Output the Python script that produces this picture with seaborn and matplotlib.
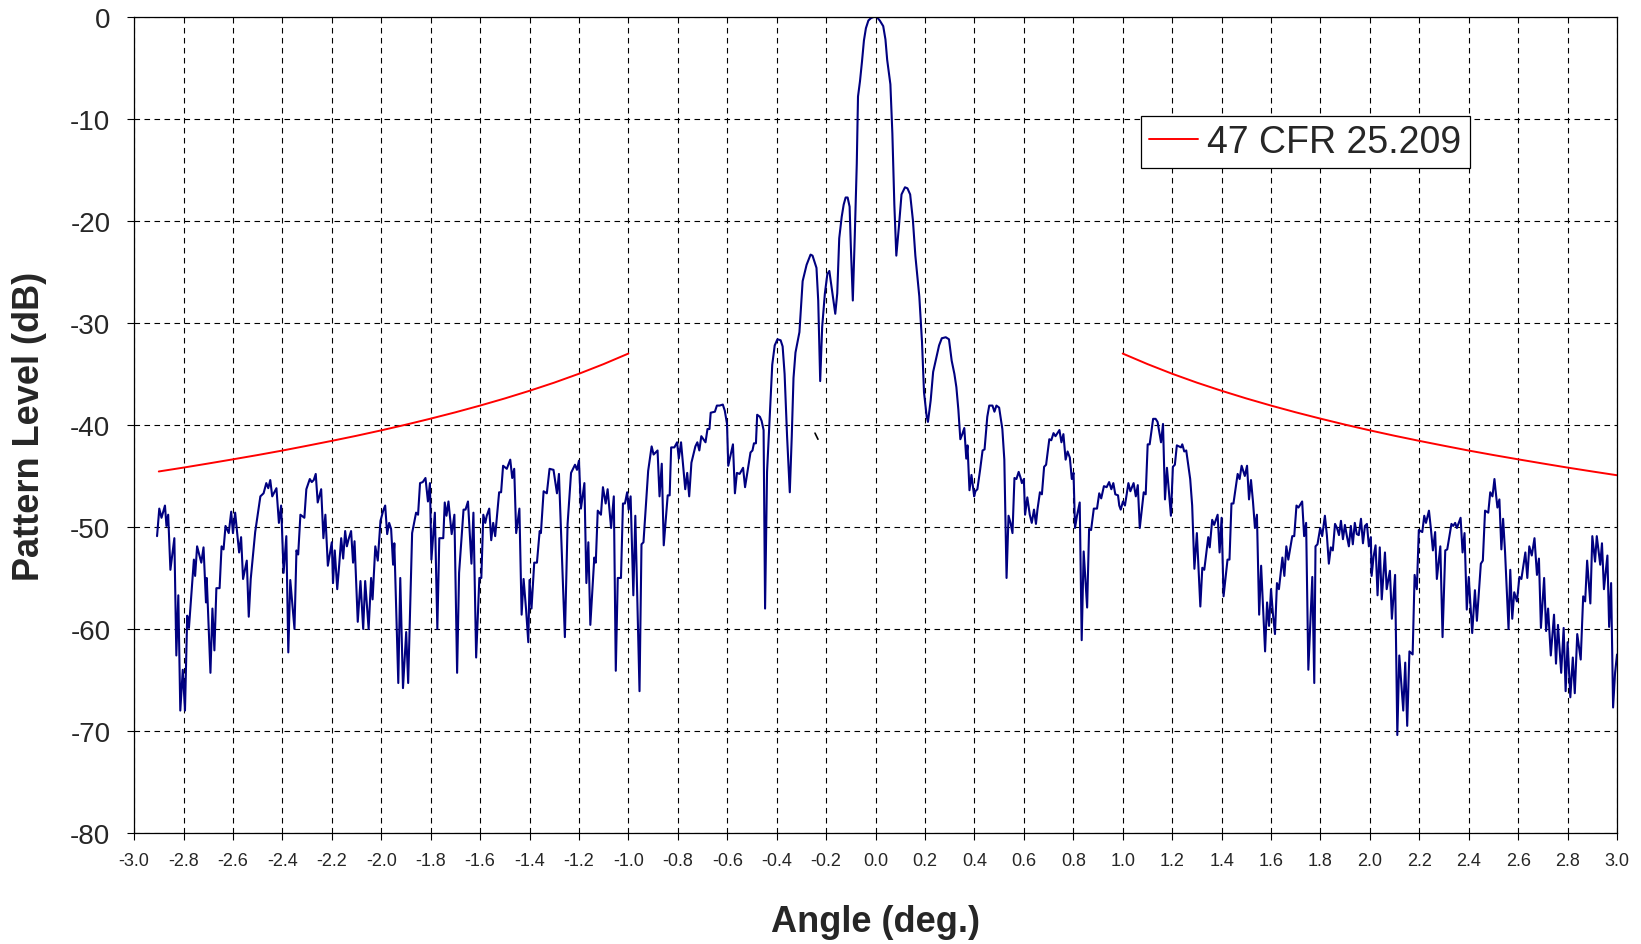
import matplotlib
matplotlib.use("Agg")
import matplotlib.pyplot as plt
import seaborn as sns
import numpy as np

pattern_angle = [
    -2.907, -2.898, -2.889, -2.875, -2.869, -2.862, -2.853, -2.837, -2.829, -2.821, -2.813, -2.803, -2.794, -2.785,
    -2.778, -2.758, -2.753, -2.745, -2.728, -2.719, -2.709, -2.706, -2.691, -2.683, -2.675, -2.667, -2.654, -2.646,
    -2.638, -2.630, -2.617, -2.607, -2.600, -2.591, -2.575, -2.567, -2.559, -2.544, -2.536, -2.528, -2.510,
    -2.489, -2.476, -2.465, -2.457, -2.449, -2.441, -2.424, -2.414, -2.405, -2.395, -2.384, -2.376, -2.368, -2.351,
    -2.343, -2.336, -2.327, -2.311, -2.303, -2.289, -2.281, -2.273, -2.265, -2.257, -2.243, -2.234, -2.226, -2.216,
    -2.200, -2.195, -2.188, -2.178, -2.170, -2.162, -2.154, -2.146, -2.139, -2.132, -2.122, -2.114, -2.108, -2.095,
    -2.084, -2.073, -2.065, -2.051, -2.041, -2.035, -2.024, -2.014, -2.003,
    -1.992, -1.984, -1.976, -1.968, -1.960, -1.952, -1.947, -1.931, -1.923, -1.912, -1.899, -1.891, -1.875, -1.859,
    -1.851, -1.843, -1.832, -1.821, -1.811, -1.803, -1.797, -1.783, -1.773, -1.765, -1.749, -1.743, -1.736, -1.728,
    -1.715, -1.704, -1.693, -1.685, -1.667, -1.659, -1.649, -1.635, -1.627, -1.616, -1.603, -1.595, -1.587, -1.579,
    -1.573, -1.563, -1.555, -1.547, -1.539, -1.523, -1.515, -1.507,
    -1.492, -1.478, -1.470, -1.462, -1.454, -1.441, -1.432, -1.424, -1.414, -1.405, -1.400, -1.392, -1.381, -1.370,
    -1.359, -1.354, -1.343, -1.330, -1.319, -1.303, -1.289, -1.281, -1.257, -1.246, -1.232, -1.216, -1.208, -1.200,
    -1.192, -1.178, -1.170, -1.162, -1.154, -1.138, -1.132, -1.124, -1.111, -1.103, -1.092, -1.084, -1.070, -1.059,
    -1.051, -1.043, -1.030, -1.022, -1.014, -1.005,
    -0.999, -0.991, -0.980, -0.972, -0.955, -0.947, -0.939, -0.920, -0.906, -0.898, -0.882, -0.874, -0.865, -0.857,
    -0.841, -0.833, -0.827, -0.814, -0.803, -0.796, -0.787, -0.770, -0.762, -0.754, -0.745, -0.729, -0.721, -0.713,
    -0.705, -0.688, -0.680, -0.672, -0.667, -0.650, -0.642, -0.631, -0.618, -0.610, -0.601, -0.596, -0.577, -0.569,
    -0.561, -0.550, -0.536, -0.528, -0.506,
    -0.498, -0.492, -0.484, -0.479, -0.468, -0.461, -0.453, -0.447, -0.439, -0.432, -0.418, -0.408, -0.397, -0.384,
    -0.376, -0.368, -0.358, -0.347, -0.339, -0.332, -0.324, -0.308, -0.295, -0.279, -0.263, -0.255, -0.247, -0.239,
    -0.232, -0.224, -0.216, -0.205, -0.195, -0.187, -0.179, -0.171, -0.163, -0.155, -0.147, -0.137, -0.129, -0.121,
    -0.113, -0.105, -0.100, -0.092, -0.084, -0.076, -0.071, -0.063, -0.055, -0.047, -0.039, -0.029, -0.018, -0.007,
    0.005, 0.017, 0.031, 0.040, 0.047, 0.060, 0.068, 0.076, 0.084, 0.095, 0.105, 0.119, 0.129, 0.140,
    0.151, 0.161, 0.177, 0.188, 0.196, 0.207, 0.212, 0.223, 0.233, 0.247, 0.257, 0.268, 0.284, 0.297,
    0.308, 0.319, 0.327, 0.335, 0.343, 0.351, 0.359, 0.367, 0.372, 0.380, 0.388, 0.399, 0.404, 0.412,
    0.423, 0.433, 0.441, 0.452, 0.460, 0.473, 0.481, 0.489,
    0.500, 0.505, 0.513, 0.521, 0.530, 0.538, 0.546, 0.554, 0.562, 0.570, 0.579, 0.587, 0.592, 0.600,
    0.605, 0.614, 0.624, 0.632, 0.641, 0.649, 0.655, 0.665, 0.673, 0.682, 0.690, 0.703, 0.711, 0.720,
    0.728, 0.744, 0.752, 0.760, 0.769, 0.777, 0.786, 0.794, 0.801, 0.807, 0.815, 0.826, 0.834, 0.842,
    0.856, 0.864, 0.872, 0.883, 0.896, 0.905, 0.913, 0.924, 0.935, 0.945, 0.954, 0.962, 0.970, 0.981,
    0.986, 0.992,
    1.001, 1.009, 1.023, 1.031, 1.044, 1.053, 1.061, 1.069, 1.085, 1.093, 1.101, 1.109, 1.123, 1.133,
    1.141, 1.155, 1.163, 1.171, 1.179, 1.195, 1.203, 1.211, 1.219, 1.236, 1.241, 1.249, 1.257, 1.273,
    1.281, 1.290, 1.300, 1.314, 1.322, 1.330, 1.346, 1.352, 1.362, 1.370, 1.384, 1.392, 1.400, 1.408,
    1.424, 1.432, 1.440, 1.448, 1.456, 1.465, 1.473, 1.481, 1.494,
    1.503, 1.511, 1.519, 1.527, 1.535, 1.543, 1.552, 1.560, 1.576, 1.584, 1.592, 1.600, 1.608, 1.616,
    1.624, 1.632, 1.646, 1.654, 1.662, 1.670, 1.686, 1.694, 1.703, 1.711, 1.726, 1.734, 1.742, 1.751,
    1.767, 1.775, 1.780, 1.788, 1.799, 1.807, 1.818, 1.826, 1.834, 1.842, 1.850, 1.859, 1.867, 1.875,
    1.883, 1.891, 1.899, 1.907, 1.915, 1.923, 1.931, 1.939, 1.947, 1.955, 1.964, 1.972, 1.980, 1.988,
    1.996,
    2.004, 2.007, 2.015, 2.023, 2.031, 2.040, 2.048, 2.061, 2.068, 2.081, 2.089, 2.102, 2.111, 2.119,
    2.135, 2.143, 2.151, 2.160, 2.173, 2.181, 2.190, 2.198, 2.212, 2.220, 2.227, 2.239, 2.247, 2.255,
    2.264, 2.271, 2.285, 2.294, 2.305, 2.313, 2.330, 2.337, 2.345, 2.352, 2.367, 2.375, 2.383, 2.392,
    2.400, 2.414, 2.425, 2.433, 2.449, 2.457, 2.466, 2.479, 2.487, 2.496, 2.504,
    2.508, 2.516, 2.524, 2.532, 2.539, 2.547, 2.561, 2.568, 2.576, 2.584, 2.595, 2.605, 2.613, 2.629,
    2.637, 2.645, 2.655, 2.666, 2.676, 2.684, 2.692, 2.705, 2.713, 2.721, 2.732, 2.745, 2.753, 2.761,
    2.774, 2.784, 2.792, 2.800, 2.811, 2.821, 2.829, 2.839, 2.853, 2.863, 2.871, 2.879, 2.892, 2.900,
    2.911, 2.918, 2.932, 2.939, 2.947, 2.961, 2.968, 2.976, 2.984, 2.992, 3.000,
]
pattern_level = [
    -50.9, -48.2, -49.1, -47.9, -49.9, -48.8, -54.2, -51.1, -62.6, -56.7, -68.0, -64.0, -68.0, -58.7,
    -59.9, -53.2, -54.8, -51.9, -53.5, -52.0, -57.4, -55.0, -64.3, -58.0, -62.1, -56.0, -56.0, -51.9,
    -52.2, -49.9, -50.6, -48.5, -50.6, -48.6, -52.5, -51.0, -55.1, -53.3, -58.8, -55.1, -50.5,
    -47.0, -46.7, -45.7, -46.2, -45.4, -47.0, -46.2, -49.6, -47.9, -54.5, -50.9, -62.3, -55.2, -60.0,
    -52.3, -52.7, -48.8, -49.1, -46.3, -45.3, -45.6, -45.4, -44.8, -47.6, -46.3, -51.1, -48.8, -53.8,
    -51.5, -55.5, -52.3, -56.1, -53.7, -51.1, -53.1, -50.4, -51.9, -51.2, -50.4, -53.5, -51.4, -59.3,
    -55.3, -60.0, -55.3, -60.0, -55.0, -57.1, -51.9, -53.3, -49.4,
    -48.4, -47.9, -50.7, -49.6, -50.2, -53.7, -51.6, -65.3, -55.0, -65.8, -60.3, -65.3, -50.6, -48.6,
    -48.8, -45.7, -45.6, -45.2, -47.5, -45.7, -53.2, -48.6, -60.0, -51.1, -51.1, -47.6, -48.9, -47.5,
    -50.7, -48.8, -64.3, -54.5, -48.3, -48.3, -47.5, -53.6, -48.6, -62.8, -55.0, -55.0, -48.8, -49.6,
    -48.9, -48.2, -51.3, -49.6, -50.9, -46.6, -46.6, -44.0,
    -44.3, -43.4, -45.2, -44.3, -50.6, -48.2, -58.6, -55.1, -58.1, -61.3, -55.2, -58.0, -53.5, -53.5,
    -50.4, -50.6, -46.5, -46.7, -44.3, -44.4, -46.7, -44.8, -60.8, -49.7, -44.7, -43.9, -44.4, -43.5,
    -48.2, -45.7, -55.5, -51.5, -59.6, -53.0, -53.5, -48.4, -48.8, -46.1, -47.7, -46.3, -50.1, -47.0,
    -64.1, -55.0, -55.0, -47.7, -47.7, -46.6,
    -48.3, -47.0, -56.7, -48.9, -66.1, -51.7, -51.5, -44.5, -42.1, -42.9, -42.5, -47.0, -43.8, -51.8,
    -46.9, -46.9, -42.2, -42.2, -41.7, -43.3, -41.7, -46.3, -44.7, -47.0, -43.7, -42.1, -41.7, -42.5,
    -41.1, -41.7, -40.4, -40.4, -38.8, -38.7, -38.1, -38.1, -38.0, -38.6, -39.9, -44.0, -41.9, -46.7,
    -44.7, -44.8, -44.2, -46.1, -42.7,
    -42.5, -41.8, -41.8, -39.0, -39.2, -39.6, -40.5, -58.0, -44.6, -41.1, -34.1, -32.2, -31.6, -31.7,
    -32.3, -35.0, -41.1, -46.6, -41.1, -35.4, -32.9, -30.9, -25.9, -24.3, -23.3, -23.4, -24.0, -24.6,
    -27.8, -35.7, -30.4, -27.1, -25.2, -24.9, -26.3, -27.7, -29.1, -27.1, -21.7, -19.6, -18.4, -17.7,
    -17.7, -18.6, -22.5, -27.8, -21.4, -14.4, -7.8, -6.3, -4.4, -2.3, -1.1, -0.35, -0.1, 0.0,
    0.0, -0.35, -0.9, -2.2, -4.2, -6.6, -11.4, -18.4, -23.4, -20.4, -17.4, -16.7, -16.8, -17.4,
    -19.9, -23.4, -27.4, -31.9, -36.8, -39.2, -39.7, -37.6, -34.8, -33.3, -32.2, -31.5, -31.4, -31.6,
    -33.7, -35.0, -36.3, -38.5, -41.4, -40.9, -40.3, -43.3, -42.0, -46.4, -44.9, -47.0, -46.5, -46.3,
    -44.4, -42.5, -42.4, -39.2, -38.1, -38.1, -38.7, -38.1,
    -38.3, -39.1, -40.4, -43.4, -55.0, -48.9, -49.6, -50.6, -45.2, -45.3, -44.6, -45.2, -45.7, -45.3,
    -48.8, -47.1, -48.8, -49.6, -48.3, -49.7, -48.3, -46.6, -46.8, -44.1, -43.9, -41.4, -41.5, -40.8,
    -41.1, -40.5, -41.7, -40.9, -43.4, -42.6, -43.2, -45.3, -44.7, -50.1, -48.9, -47.6, -61.1, -52.4,
    -57.9, -50.2, -50.3, -48.2, -48.2, -46.7, -47.2, -46.0, -46.1, -45.6, -46.3, -45.7, -46.8, -46.9,
    -47.9, -48.3,
    -47.5, -47.9, -45.7, -46.5, -45.7, -47.0, -45.9, -50.1, -46.6, -46.8, -41.9, -41.9, -39.4, -39.4,
    -39.7, -41.7, -39.9, -47.3, -44.2, -48.9, -44.1, -43.9, -42.0, -42.2, -41.9, -42.6, -42.5, -45.3,
    -47.9, -54.1, -50.6, -57.8, -54.0, -54.2, -51.0, -52.0, -49.3, -49.8, -48.8, -52.5, -49.1, -56.8,
    -53.2, -53.2, -47.7, -47.7, -46.3, -44.8, -45.3, -44.0, -45.0,
    -44.0, -47.3, -45.4, -47.5, -50.1, -48.8, -58.6, -53.8, -62.2, -57.4, -59.7, -56.1, -58.6, -60.5,
    -55.5, -56.1, -53.0, -54.8, -51.9, -53.2, -50.9, -50.9, -47.9, -48.1, -47.5, -50.9, -49.6, -64.0,
    -54.9, -65.3, -51.9, -51.7, -50.1, -50.9, -48.9, -50.8, -53.6, -52.0, -52.3, -49.7, -50.1, -50.8,
    -49.4, -51.2, -49.8, -50.9, -51.9, -49.9, -51.7, -49.6, -50.7, -50.8, -49.2, -51.6, -49.9, -49.7,
    -51.9,
    -51.0, -54.8, -52.9, -51.8, -56.7, -52.0, -57.1, -52.5, -56.1, -54.3, -59.0, -54.7, -70.4, -62.6,
    -68.0, -63.3, -69.5, -62.2, -62.5, -54.7, -56.1, -50.3, -50.5, -48.9, -49.6, -48.4, -50.2, -52.3,
    -50.5, -55.1, -51.9, -60.8, -52.3, -52.2, -49.7, -49.9, -49.6, -50.1, -49.1, -52.5, -50.6, -58.1,
    -54.9, -60.4, -56.2, -59.2, -53.6, -53.3, -48.4, -48.6, -46.6, -47.0, -45.3,
    -46.3, -48.1, -47.3, -52.2, -49.2, -52.5, -60.0, -54.2, -59.0, -56.4, -57.3, -54.9, -55.1, -52.5,
    -55.0, -51.9, -52.8, -51.1, -54.7, -53.1, -59.9, -55.0, -60.2, -58.0, -62.6, -58.6, -63.4, -59.6,
    -64.3, -59.9, -66.1, -61.3, -66.7, -62.8, -66.3, -60.5, -63.0, -56.8, -57.3, -53.3, -57.5, -50.9,
    -53.4, -50.9, -53.7, -51.6, -56.1, -52.8, -59.8, -55.5, -67.7, -64.3, -62.5,
]

# 47 CFR 25.209 envelope, left and right of boresight
mask_left_angle = [-2.9, -2.8, -2.7, -2.6, -2.5, -2.4, -2.3, -2.2, -2.1, -2.0,
                   -1.9, -1.8, -1.7, -1.6, -1.5, -1.4, -1.3, -1.2, -1.1, -1.0]
mask_left_level = [-44.56, -44.18, -43.78, -43.37, -42.95, -42.51, -42.04, -41.56, -41.06, -40.53,
                   -39.97, -39.38, -38.76, -38.10, -37.40, -36.65, -35.85, -34.98, -34.03, -33.00]
mask_right_angle = [1.0, 1.1, 1.2, 1.3, 1.4, 1.5, 1.6, 1.7, 1.8, 1.9, 2.0,
                    2.1, 2.2, 2.3, 2.4, 2.5, 2.6, 2.7, 2.8, 2.9, 3.0]
mask_right_level = [-33.00, -34.03, -34.98, -35.85, -36.65, -37.40, -38.10, -38.76, -39.38, -39.97, -40.53,
                    -41.06, -41.56, -42.04, -42.51, -42.95, -43.37, -43.78, -44.18, -44.56, -44.93]

# stray tick mark near the main lobe
stray_angle = [-0.245, -0.233]
stray_level = [-40.8, -41.4]

x_ticks = [round(-3.0 + 0.2 * i, 1) for i in range(31)]
y_ticks = [-80, -70, -60, -50, -40, -30, -20, -10, 0]

sns.set_theme(style="white")
plt.rcParams["font.family"] = ["Liberation Sans", "DejaVu Sans"]
plt.rcParams["axes.unicode_minus"] = False

fig = plt.figure(figsize=(16.41, 9.45), dpi=100)
ax = fig.add_axes([0.0817, 0.1175, 0.9037, 0.8635])

sns.lineplot(x=pattern_angle, y=pattern_level, color="#000080", lw=1.5, estimator=None, sort=False, ax=ax)
sns.lineplot(x=mask_left_angle, y=mask_left_level, color="#ff0000", lw=1.4, estimator=None, sort=False,
             label="47 CFR 25.209", ax=ax)
sns.lineplot(x=mask_right_angle, y=mask_right_level, color="#ff0000", lw=1.4, estimator=None, sort=False, ax=ax)
sns.lineplot(x=stray_angle, y=stray_level, color="black", lw=1.2, estimator=None, sort=False, ax=ax)

ax.set_xlim(-3.0, 3.0)
ax.set_ylim(-80, 0)
ax.set_xticks(x_ticks)
ax.set_xticklabels([f"{abs(v):.1f}" if abs(v) < 1e-9 else f"{v:.1f}" for v in x_ticks])
ax.set_yticks(y_ticks)
ax.set_yticklabels([str(v) for v in y_ticks])

ax.grid(True, color="black", linestyle=(0, (5, 4)), lw=0.8)
ax.tick_params(axis="x", labelsize=13, direction="out", length=5, width=0.8, color="black", pad=9, bottom=True)
ax.tick_params(axis="y", labelsize=20, direction="out", length=5, width=0.8, color="black", pad=12, left=True)
for s in ax.spines.values():
    s.set_color("black")
    s.set_linewidth(0.9)

ax.set_xlabel("Angle (deg.)", fontsize=26, fontweight="bold")
ax.set_ylabel("Pattern Level (dB)", fontsize=26, fontweight="bold")
ax.xaxis.set_label_coords(0.5, -0.109)
ax.yaxis.set_label_coords(-0.0705, 0.5)
ax.xaxis.label.set_va("center")
ax.yaxis.label.set_va("center")

leg = ax.legend(loc="upper left", bbox_to_anchor=(0.679, 0.879), borderaxespad=0, fontsize=27,
                frameon=True, fancybox=False, framealpha=1, edgecolor="black",
                handlelength=1.3, handletextpad=0.25, borderpad=0.22)
leg.get_frame().set_linewidth(0.9)

fig.savefig("out.png", dpi=100)
